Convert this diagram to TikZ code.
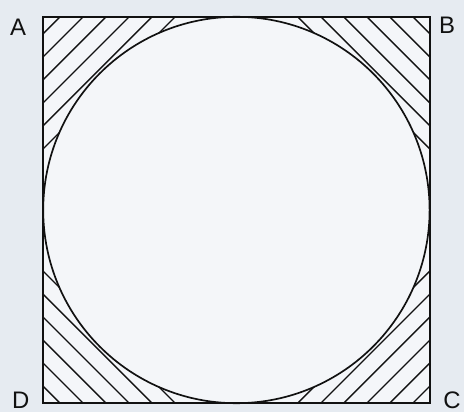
\documentclass[tikz,border=0pt]{standalone}
\usepackage{xcolor}
\usepackage{fontspec}
\setmainfont{Liberation Sans}
\usepackage{tikz}
\definecolor{SqBack}{HTML}{E6EBF1}
\definecolor{SqPaper}{HTML}{F4F6F9}
\definecolor{SqInk}{HTML}{111111}

\begin{document}
\begin{tikzpicture}[x=1cm,y=1cm]
\path[use as bounding box] (0,0) rectangle (11.60,10.30);
\fill[SqBack] (0,0) rectangle (11.60,10.30);
\coordinate (A) at (1.08,9.88);
\coordinate (B) at (10.74,9.88);
\coordinate (C) at (10.74,0.22);
\coordinate (D) at (1.08,0.22);
\coordinate (O) at (5.91,5.05);
\fill[SqPaper] (A) rectangle (C);
% hatching in the four corners
\begin{scope}[SqInk,line width=1pt]
\clip (A) rectangle (C);
\draw (1.50,9.88) -- (1.08,9.46);
\draw (2.08,9.88) -- (1.08,8.88);
\draw (2.65,9.88) -- (1.08,8.31);
\draw (3.23,9.88) -- (1.08,7.73);
\draw (3.80,9.88) -- (1.08,7.16);
\draw (4.38,9.88) -- (1.08,6.58);
\draw (10.32,9.88) -- (10.74,9.46);
\draw (9.74,9.88) -- (10.74,8.88);
\draw (9.17,9.88) -- (10.74,8.31);
\draw (8.59,9.88) -- (10.74,7.73);
\draw (8.02,9.88) -- (10.74,7.16);
\draw (7.44,9.88) -- (10.74,6.58);
\draw (1.50,0.22) -- (1.08,0.64);
\draw (2.08,0.22) -- (1.08,1.22);
\draw (2.65,0.22) -- (1.08,1.79);
\draw (3.23,0.22) -- (1.08,2.37);
\draw (3.80,0.22) -- (1.08,2.94);
\draw (4.38,0.22) -- (1.08,3.52);
\draw (10.32,0.22) -- (10.74,0.64);
\draw (9.74,0.22) -- (10.74,1.22);
\draw (9.17,0.22) -- (10.74,1.79);
\draw (8.59,0.22) -- (10.74,2.37);
\draw (8.02,0.22) -- (10.74,2.94);
\draw (7.44,0.22) -- (10.74,3.52);
\end{scope}
% circle and square
\filldraw[fill=SqPaper,draw=SqInk,line width=1.2pt] (O) circle (4.83);
\draw[SqInk,line width=1.3pt] (A) rectangle (C);
\node[SqInk,font=\fontsize{17}{17}\selectfont] (lblA) at (0.45,9.63) {A};
\node[SqInk,font=\fontsize{17}{17}\selectfont] (lblB) at (11.18,9.67) {B};
\node[SqInk,font=\fontsize{17}{17}\selectfont] (lblC) at (11.30,0.30) {C};
\node[SqInk,font=\fontsize{17}{17}\selectfont] (lblD) at (0.52,0.30) {D};
\end{tikzpicture}
\end{document}
